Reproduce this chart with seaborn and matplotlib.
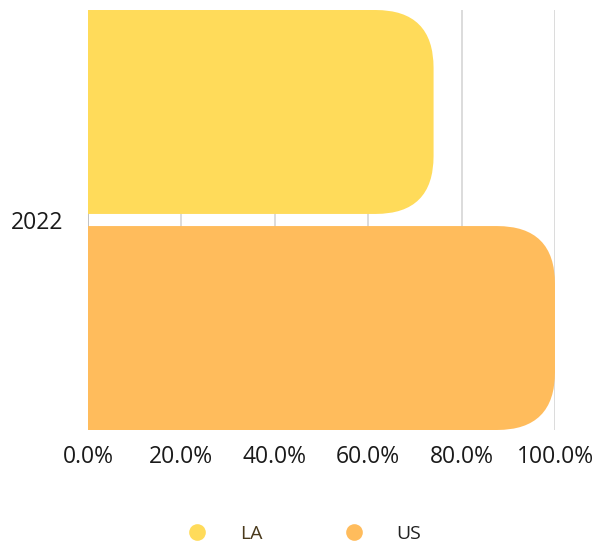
import matplotlib
matplotlib.use("Agg")
import matplotlib.pyplot as plt
from matplotlib.patches import FancyBboxPatch
from matplotlib.lines import Line2D
from matplotlib.ticker import FuncFormatter
import seaborn as sns
import pandas as pd

years = ["2022"]
regions = ["LA", "US"]
values = [74.0, 100.0]
colors = ["#FFDB5A", "#FFBC5C"]
label_colors = ["#4A3A1C", "#222222"]

df = pd.DataFrame({"year": years * len(regions), "region": regions, "value": values})

sns.set_style("white")
plt.rcParams["font.family"] = ["Open Sans", "DejaVu Sans"]

fig = plt.figure(figsize=(5.99, 5.42), dpi=100)
ax = fig.add_axes([88 / 599, 1 - 430 / 542, 467 / 599, 420 / 542])

sns.barplot(data=df, y="year", x="value", hue="region", palette=colors,
            orient="h", width=1.0, gap=0.056, saturation=1, legend=False, ax=ax)

ax.set_xlim(0, 100)
bars = list(ax.patches)
ymin = min(b.get_y() for b in bars)
ymax = max(b.get_y() + b.get_height() for b in bars)
ax.set_ylim(ymax, ymin)

# swap rectangles for ones with rounded right ends
r_px = 58
x_per_px = 100 / 467
y_per_px = (ymax - ymin) / 420
rx = r_px * x_per_px
for b in bars:
    x, y, w, h = b.get_x(), b.get_y(), b.get_width(), b.get_height()
    fb = FancyBboxPatch((x - rx * 2, y), w + rx * 2, h,
                        boxstyle=f"round,pad=0,rounding_size={rx}",
                        mutation_aspect=y_per_px / x_per_px,
                        facecolor=b.get_facecolor(), edgecolor="none", zorder=2)
    b.remove()
    ax.add_patch(fb)

ax.set_xticks([0, 20, 40, 60, 80, 100])
ax.xaxis.set_major_formatter(FuncFormatter(lambda v, p: f"{v:.1f}%"))
ax.grid(axis="x", color="#d6d6d6", linewidth=1.2)
ax.set_axisbelow(True)
for s in ax.spines.values():
    s.set_visible(False)
ax.axvline(0, color="#bdbdbd", linewidth=1.2, zorder=1)
ax.tick_params(axis="both", length=0, labelsize=16.5, colors="#1a1a1a")
ax.tick_params(axis="x", pad=11)
ax.tick_params(axis="y", pad=18)
ax.set_xlabel("")
ax.set_ylabel("")

handles = [Line2D([], [], marker="o", linestyle="none", markersize=12,
                  markerfacecolor=c, markeredgecolor="none") for c in colors]
leg = fig.legend(handles, regions, loc="center", bbox_to_anchor=(0.5, 1 - 534 / 542),
                 ncol=2, frameon=False, fontsize=14, columnspacing=3.7,
                 handletextpad=1.2)
for t, c in zip(leg.get_texts(), label_colors):
    t.set_color(c)

fig.savefig("out.png", dpi=100)
